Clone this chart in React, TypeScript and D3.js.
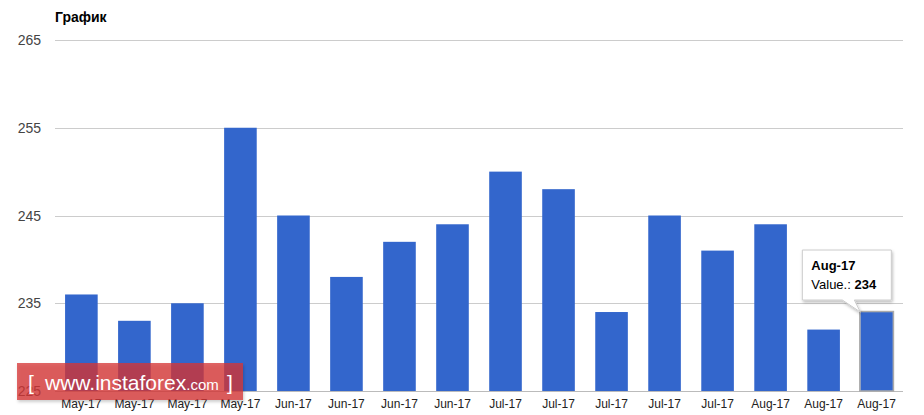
import { useEffect, useRef } from 'react';
import * as d3 from 'd3';

const categories = [
  'May-17', 'May-17', 'May-17', 'May-17', 'Jun-17', 'Jun-17', 'Jun-17', 'Jun-17',
  'Jul-17', 'Jul-17', 'Jul-17', 'Jul-17', 'Jul-17', 'Aug-17', 'Aug-17', 'Aug-17',
];
const values = [236, 233, 235, 255, 245, 238, 242, 244, 250, 248, 234, 245, 241, 244, 232, 234];
const yTicks = [225, 235, 245, 255, 265];
const title = 'График';

const W = 924;
const H = 415;

export default function App() {
  const svgRef = useRef<SVGSVGElement>(null);

  useEffect(() => {
    if (!svgRef.current) return;
    const margin = { top: 40, right: 21, bottom: 24, left: 55 };
    const width = W - margin.left - margin.right;
    const chartHeight = H - margin.top - margin.bottom;

    const svg = d3.select(svgRef.current);
    svg.selectAll('*').remove();

    const defs = svg.append('defs');
    const shadow = defs.append('filter').attr('id', 'shadow').attr('x', '-20%').attr('y', '-20%').attr('width', '140%').attr('height', '150%');
    shadow.append('feDropShadow').attr('dx', 1).attr('dy', 2).attr('stdDeviation', 1.5).attr('flood-color', '#000').attr('flood-opacity', 0.25);

    const g = svg.append('g').attr('transform', `translate(${margin.left},${margin.top})`);

    const x = d3
      .scaleBand<number>()
      .domain(d3.range(values.length))
      .range([0, width])
      .paddingInner(0.385)
      .paddingOuter(0.19);

    const y = d3.scaleLinear().domain([225, 265]).range([chartHeight, 0]);

    // gridlines
    g.selectAll('.grid')
      .data(yTicks)
      .join('line')
      .attr('x1', 0)
      .attr('x2', width)
      .attr('y1', (d) => Math.round(y(d)) + 0.5)
      .attr('y2', (d) => Math.round(y(d)) + 0.5)
      .attr('stroke', (d) => (d === 225 ? '#bbb' : '#ccc'))
      .attr('stroke-width', 1);

    // y labels
    g.selectAll('.ylab')
      .data(yTicks)
      .join('text')
      .attr('x', -14)
      .attr('y', (d) => y(d) + 5)
      .attr('text-anchor', 'end')
      .attr('font-family', 'Arial, "Liberation Sans", sans-serif')
      .attr('font-size', 14)
      .attr('fill', '#444')
      .text((d) => d);

    // bars
    g.selectAll('.bar')
      .data(values)
      .join('rect')
      .attr('x', (_, i) => x(i)!)
      .attr('y', (d) => y(d))
      .attr('width', x.bandwidth())
      .attr('height', (d) => chartHeight - y(d))
      .attr('fill', '#3366cc');

    // hover outline on last bar
    const last = values.length - 1;
    g.append('rect')
      .attr('x', x(last)! - 0.5)
      .attr('y', y(values[last]) - 0.5)
      .attr('width', x.bandwidth() + 1)
      .attr('height', chartHeight - y(values[last]) + 0.5)
      .attr('fill', 'none')
      .attr('stroke', '#aaa')
      .attr('stroke-width', 1.5);

    // x labels
    g.selectAll('.xlab')
      .data(categories)
      .join('text')
      .attr('x', (_, i) => x(i)! + x.bandwidth() / 2)
      .attr('y', chartHeight + 17)
      .attr('text-anchor', 'middle')
      .attr('font-family', 'Arial, "Liberation Sans", sans-serif')
      .attr('font-size', 12)
      .attr('fill', '#222')
      .text((d) => d);

    // title
    svg
      .append('text')
      .attr('x', margin.left)
      .attr('y', 22)
      .attr('font-family', 'Arial, "Liberation Sans", sans-serif')
      .attr('font-size', 14)
      .attr('font-weight', 'bold')
      .attr('fill', '#000')
      .text(title);

    // tooltip
    const tipX = margin.left + x(last)!;
    const tipY = margin.top + y(values[last]);
    const bx = tipX - 58;
    const by = tipY - 62;
    const bw = 89;
    const bh = 50;
    const tip = svg.append('g');
    tip
      .append('path')
      .attr(
        'd',
        `M${bx},${by} H${bx + bw} V${by + bh} H${bx + 52} L${tipX},${tipY} L${bx + 40},${by + bh} H${bx} Z`
      )
      .attr('fill', '#fff')
      .attr('stroke', '#ccc')
      .attr('stroke-width', 1)
      .attr('filter', 'url(#shadow)');
    tip
      .append('text')
      .attr('x', bx + 9)
      .attr('y', by + 20)
      .attr('font-family', 'Arial, "Liberation Sans", sans-serif')
      .attr('font-size', 13)
      .attr('font-weight', 'bold')
      .attr('fill', '#000')
      .text(categories[last]);
    const vt = tip
      .append('text')
      .attr('x', bx + 9)
      .attr('y', by + 39)
      .attr('font-family', 'Arial, "Liberation Sans", sans-serif')
      .attr('font-size', 13)
      .attr('fill', '#000');
    vt.append('tspan').text('Value.: ');
    vt.append('tspan').attr('font-weight', 'bold').text(values[last]);

    // watermark
    const wm = svg.append('g');
    wm.append('rect')
      .attr('x', 17)
      .attr('y', 363)
      .attr('width', 226)
      .attr('height', 37)
      .attr('fill', 'rgba(214,52,55,0.76)')
      .attr('filter', 'url(#shadow)');
    const wt = wm
      .append('text')
      .attr('y', 390)
      .attr('font-family', 'Arial, "Liberation Sans", sans-serif')
      .attr('fill', '#fff');
    wt.append('tspan').attr('x', 28).attr('font-size', 21).text('[');
    wt.append('tspan').attr('x', 45).attr('font-size', 21).text('www.instaforex');
    wt.append('tspan').attr('font-size', 15).text('.com');
    wt.append('tspan').attr('x', 227).attr('font-size', 21).text(']');
  }, []);

  return (
    <svg
      ref={svgRef}
      width={W}
      height={H}
      style={{ position: 'absolute', left: 0, top: 0, background: '#fff' }}
    />
  );
}
